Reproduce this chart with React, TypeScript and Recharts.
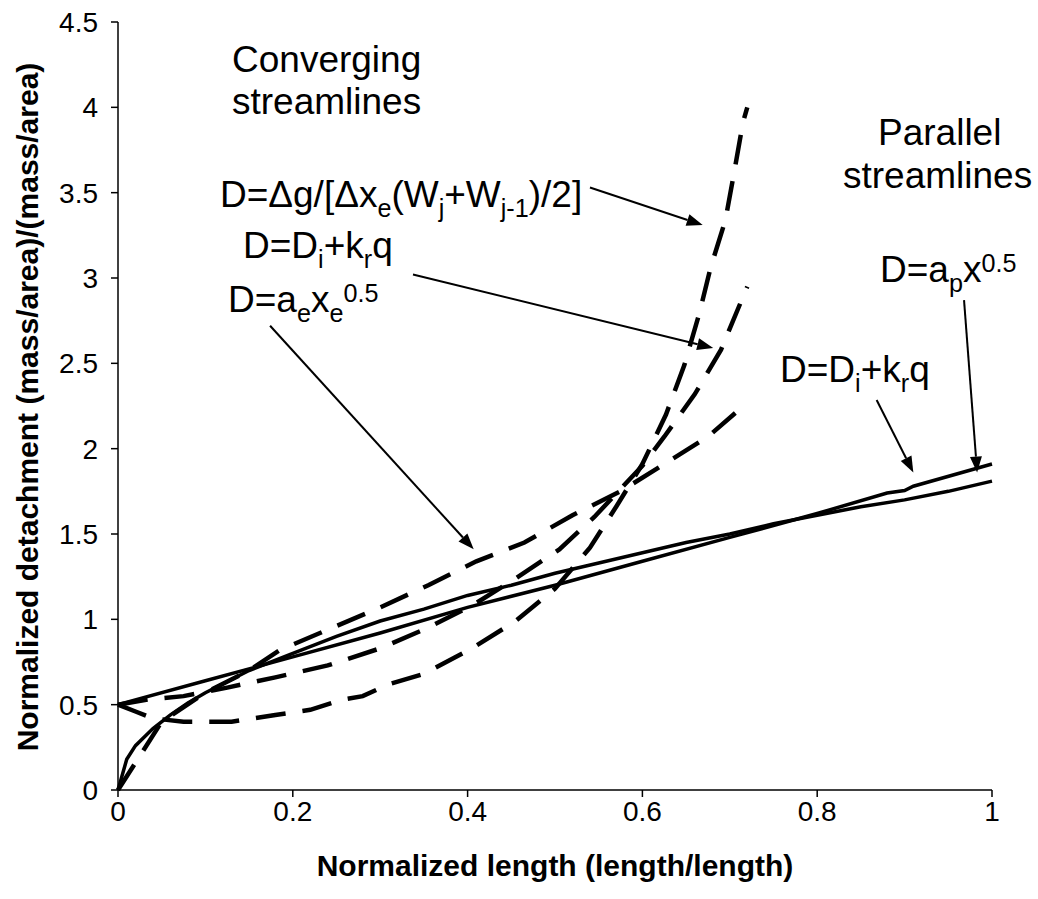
import { LineChart, Line, XAxis, YAxis, ReferenceLine } from 'recharts'

// converging streamlines (dashed)
const convAeX = [0, 0.05, 0.1, 0.15, 0.185, 0.245, 0.3, 0.355, 0.41, 0.465, 0.52, 0.575, 0.625, 0.675, 0.72]
const convAeY = [0, 0.4, 0.57, 0.7, 0.82, 0.95, 1.07, 1.2, 1.34, 1.45, 1.61, 1.75, 1.91, 2.07, 2.27]

const convKrX = [0, 0.034, 0.075, 0.125, 0.18, 0.24, 0.3, 0.35, 0.405, 0.455, 0.505, 0.545, 0.6, 0.625, 0.66, 0.69, 0.72]
const convKrY = [0.5, 0.53, 0.55, 0.6, 0.66, 0.73, 0.83, 0.94, 1.08, 1.24, 1.41, 1.6, 1.9, 2.07, 2.32, 2.58, 2.95]

const convDgX = [0, 0.02, 0.04, 0.075, 0.13, 0.18, 0.22, 0.257, 0.28, 0.31, 0.35, 0.405, 0.455, 0.5, 0.54, 0.57, 0.6, 0.627, 0.648, 0.665, 0.678, 0.695, 0.705, 0.715, 0.72]
const convDgY = [0.5, 0.46, 0.42, 0.4, 0.4, 0.44, 0.47, 0.53, 0.55, 0.62, 0.68, 0.83, 0.99, 1.18, 1.42, 1.66, 1.91, 2.2, 2.49, 2.79, 3.06, 3.34, 3.62, 3.91, 4.0]

// parallel streamlines (solid)
const parKrX = [0, 0.1, 0.2, 0.3, 0.4, 0.5, 0.6, 0.7, 0.8, 0.88, 0.9, 0.91, 1]
const parKrY = [0.5, 0.64, 0.78, 0.92, 1.07, 1.2, 1.34, 1.48, 1.62, 1.74, 1.755, 1.78, 1.91]

const parApX = [0, 0.01, 0.02, 0.04, 0.06, 0.08, 0.1, 0.15, 0.2, 0.25, 0.3, 0.35, 0.4, 0.45, 0.5, 0.55, 0.6, 0.65, 0.7, 0.75, 0.8, 0.85, 0.9, 0.95, 1]
const parApY = [0, 0.18, 0.26, 0.36, 0.44, 0.51, 0.57, 0.7, 0.8, 0.9, 0.99, 1.06, 1.14, 1.2, 1.27, 1.33, 1.39, 1.45, 1.5, 1.56, 1.61, 1.66, 1.7, 1.75, 1.81]

const xTicks = [0, 0.2, 0.4, 0.6, 0.8, 1]
const yTicks = [0, 0.5, 1, 1.5, 2, 2.5, 3, 3.5, 4, 4.5]

const toPoints = (xs: number[], ys: number[]) => xs.map((x, i) => ({ x, y: ys[i] }))

// arrows: [x1, y1, x2, y2] in data units, tip at the end
const arrows = [
  [0.54, 3.53, 0.669, 3.31],
  [0.3375, 3.02, 0.681, 2.59],
  [0.174, 2.72, 0.407, 1.41],
  [0.868, 2.285, 0.91, 1.86],
  [0.968, 2.87, 0.983, 1.86],
]

const font = 'Liberation Sans, Arial, sans-serif'

function Arrow(props: any) {
  const { x1, y1, x2, y2 } = props
  const ang = Math.atan2(y2 - y1, x2 - x1)
  const len = 16
  const w = 6
  const bx = x2 - len * Math.cos(ang)
  const by = y2 - len * Math.sin(ang)
  const px = -Math.sin(ang) * w
  const py = Math.cos(ang) * w
  return (
    <g>
      <line x1={x1} y1={y1} x2={bx} y2={by} stroke="#000" strokeWidth={2} />
      <polygon points={`${x2},${y2} ${bx + px},${by + py} ${bx - px},${by - py}`} fill="#000" />
    </g>
  )
}

function YTick(props: any) {
  const { x, y, payload } = props
  return (
    <text x={x - 11} y={y} dy="0.355em" textAnchor="end" fontSize={28} fontFamily={font} fill="#000">
      {payload.value}
    </text>
  )
}

type Seg = [string, 'n' | 'sub' | 'sup']

function Rich({ x, y, segs, size = 37 }: { x: number; y: number; segs: Seg[]; size?: number }) {
  const small = size * 0.68
  let cur = 0
  return (
    <text x={x} y={y} fontSize={size} fontFamily={font} fill="#000">
      {segs.map(([t, k], i) => {
        const target = k === 'sub' ? size * 0.27 : k === 'sup' ? -size * 0.28 : 0
        const dy = target - cur
        cur = target
        return (
          <tspan key={i} dy={dy} fontSize={k === 'n' ? size : small}>
            {t}
          </tspan>
        )
      })}
    </text>
  )
}

export default function App() {
  return (
    <div style={{ position: 'absolute', left: 0, top: 0, width: 1038, height: 899, background: '#fff' }}>
      <LineChart width={1038} height={899} margin={{ top: 22, right: 46, bottom: 9, left: 0 }}>
        <XAxis
          type="number"
          dataKey="x"
          domain={[0, 1]}
          ticks={xTicks}
          stroke="#000"
          strokeWidth={1.5}
          tickSize={7}
          tickMargin={4}
          height={100}
          tick={{ fill: '#000', fontSize: 28, fontFamily: font }}
          label={{ value: 'Normalized length (length/length)', position: 'insideBottom', offset: 14, style: { fontSize: 30, fontWeight: 'bold', fontFamily: font, fill: '#000' } }}
        />
        <YAxis
          type="number"
          dataKey="y"
          domain={[0, 4.5]}
          ticks={yTicks}
          stroke="#000"
          strokeWidth={1.5}
          tickSize={7}
          width={118}
          tick={<YTick />}
        />
        <Line data={toPoints(parKrX, parKrY)} dataKey="y" stroke="#000" strokeWidth={3.5} dot={false} type="linear" isAnimationActive={false} />
        <Line data={toPoints(parApX, parApY)} dataKey="y" stroke="#000" strokeWidth={3.5} dot={false} type="linear" isAnimationActive={false} />
        <Line data={toPoints(convAeX, convAeY)} dataKey="y" stroke="#000" strokeWidth={4.5} strokeDasharray="30 17" dot={false} type="linear" isAnimationActive={false} />
        <Line data={toPoints(convKrX, convKrY)} dataKey="y" stroke="#000" strokeWidth={4.5} strokeDasharray="30 17" dot={false} type="linear" isAnimationActive={false} />
        <Line data={toPoints(convDgX, convDgY)} dataKey="y" stroke="#000" strokeWidth={4.5} strokeDasharray="30 17" dot={false} type="linear" isAnimationActive={false} />
        {arrows.map((a, i) => (
          <ReferenceLine
            key={i}
            segment={[{ x: a[0], y: a[1] }, { x: a[2], y: a[3] }]}
            stroke="#000"
            shape={(p: any) => <Arrow {...p} />}
          />
        ))}
      </LineChart>
      <svg width={1038} height={899} style={{ position: 'absolute', left: 0, top: 0, pointerEvents: 'none' }}>
        <text
          transform="translate(38 407) rotate(-90)"
          textAnchor="middle"
          fontSize={30}
          fontWeight="bold"
          fontFamily={font}
          fill="#000"
        >
          Normalized detachment (mass/area)/(mass/area)
        </text>
        <Rich x={232} y={72} segs={[['Converging', 'n']]} />
        <Rich x={232} y={114} segs={[['streamlines', 'n']]} />
        <Rich x={878} y={145} segs={[['Parallel', 'n']]} />
        <Rich x={843} y={188} segs={[['streamlines', 'n']]} />
        <Rich
          x={220}
          y={207}
          segs={[['D=Δg/[Δx', 'n'], ['e', 'sub'], ['(W', 'n'], ['j', 'sub'], ['+W', 'n'], ['j-1', 'sub'], [')/2]', 'n']]}
        />
        <Rich x={243} y={258} segs={[['D=D', 'n'], ['i', 'sub'], ['+k', 'n'], ['r', 'sub'], ['q', 'n']]} />
        <Rich x={228} y={312} segs={[['D=a', 'n'], ['e', 'sub'], ['x', 'n'], ['e', 'sub'], ['0.5', 'sup']]} />
        <Rich x={880} y={282} segs={[['D=a', 'n'], ['p', 'sub'], ['x', 'n'], ['0.5', 'sup']]} />
        <Rich x={780} y={382} segs={[['D=D', 'n'], ['i', 'sub'], ['+k', 'n'], ['r', 'sub'], ['q', 'n']]} />
      </svg>
    </div>
  )
}
